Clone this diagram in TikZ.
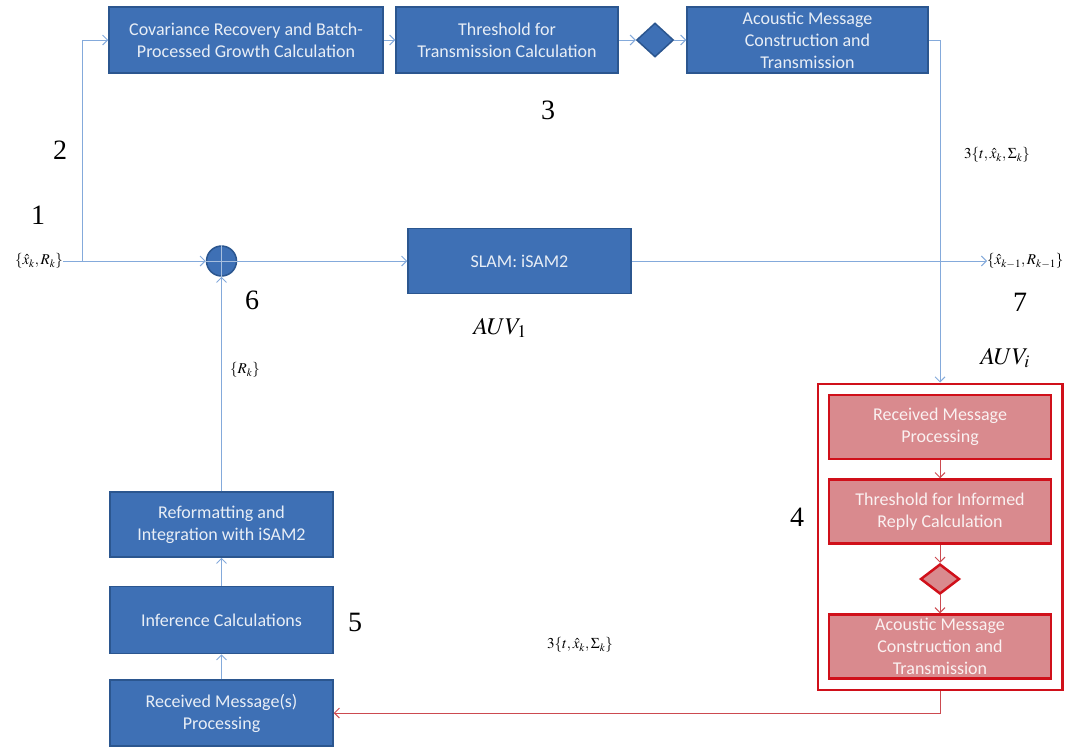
\documentclass[tikz,border=0pt]{standalone}
\usepackage{mathptmx}
\usepackage{fontspec}
\setmainfont{Liberation Serif}
\newfontfamily\boxfont{Carlito}
\usepackage{tikz}
\usetikzlibrary{arrows.meta,positioning,shapes.geometric,fit}
\definecolor{blockblue}{HTML}{3E70B5}
\definecolor{blockedge}{HTML}{2B568F}
\definecolor{flowblue}{HTML}{84AADB}
\definecolor{redfill}{HTML}{D98A8E}
\definecolor{rededge}{HTML}{D0101A}
\definecolor{flowred}{HTML}{CC4A50}
\tikzset{
  fc/block/.style={draw=blockedge, line width=1.5pt, fill=blockblue, text=white!88!blockblue,
    font=\boxfont\fontsize{18}{22}\selectfont, align=center, inner sep=0pt},
  fc/redblock/.style={fc/block, draw=rededge, line width=2.5pt, fill=redfill, text=white!88!redfill,
    minimum width=222pt, minimum height=64pt},
  fc/decision/.style={draw=blockedge, line width=1.5pt, fill=blockblue, diamond, aspect=1.1,
    inner sep=0pt, minimum width=37pt, minimum height=34pt},
  fc/reddecision/.style={fc/decision, draw=rededge, line width=2.5pt, fill=redfill,
    minimum width=39pt, minimum height=30pt},
  fc/frame/.style={draw=rededge, line width=2.5pt, inner sep=10pt},
  fc/sum/.style={draw=blockedge, line width=1.5pt, fill=blockblue, circle, inner sep=0pt, minimum size=30pt},
  fc/line/.style={draw=flowblue, line width=1pt, -{Straight Barb[length=5pt,width=10pt]}},
  fc/redline/.style={fc/line, draw=flowred},
  fc/num/.style={font=\fontsize{28}{30}\selectfont, inner sep=0pt},
  fc/auv/.style={font=\fontsize{24}{26}\selectfont, inner sep=0pt},
  fc/math/.style={font=\fontsize{15}{17}\selectfont, inner sep=0pt}
}
\begin{document}
\begin{tikzpicture}[x=1pt, y=-1pt, node distance=18pt]
  \useasboundingbox (0,0) rectangle (1070,748);

  % top row: growth check and transmission
  \node[fc/block, minimum width=274pt, minimum height=66pt] (cov) at (246,40)
    {Covariance Recovery and Batch-\\Processed Growth Calculation};
  \node[fc/block, minimum width=222pt, minimum height=66pt] (thr) at (507,40)
    {Threshold for\\Transmission Calculation};
  \node[fc/decision] (dec) at (655,40) {};
  \node[fc/block, minimum width=241pt, minimum height=66pt] (ack) at (807.5,40)
    {Acoustic Message\\Construction and\\Transmission};

  % middle row: own vehicle
  \node[fc/math] (in) at (39,261) {$\{\hat{x}_k, R_k\}$};
  \coordinate (br) at (82,261);
  \node[fc/sum] (sum) at (221.5,261) {};
  \node[fc/block, minimum width=223pt, minimum height=65pt] (slam) at (519.5,261) {SLAM: iSAM2};
  \node[fc/math, anchor=west] (out) at (987,261) {$\{\hat{x}_{k-1}, R_{k-1}\}$};

  % left column: handling replies
  \node[fc/block, minimum width=223pt, minimum height=66pt] (recv) at (221.5,713)
    {Received Message(s)\\Processing};
  \node[fc/block, minimum width=223pt, minimum height=67pt, above=25pt of recv] (inf)
    {Inference Calculations};
  \node[fc/block, minimum width=223pt, minimum height=65pt, above=28pt of inf] (ref)
    {Reformatting and\\Integration with iSAM2};

  % other vehicle
  \node[fc/redblock] (rm) at (940,427) {Received Message\\Processing};
  \node[fc/redblock, below=of rm] (tr) {Threshold for Informed\\Reply Calculation};
  \node[fc/reddecision, below=of tr] (rdec) {};
  \node[fc/redblock, below=of rdec] (ra) {Acoustic Message\\Construction and\\Transmission};
  \node[fc/frame, fit=(rm)(ra)] (cont) {};

  % connectors
  \draw[fc/line] (in) -- (sum);
  \draw[fc/line] (br) |- (cov);
  \draw[fc/line] (cov) -- (thr);
  \draw[fc/line] (thr) -- (dec);
  \draw[fc/line] (dec) -- (ack);
  \draw[fc/line] (sum) -- (slam);
  \draw[fc/line] (slam) -- (out);
  \draw[fc/line] (ack.east) -| (cont.north);
  \draw[fc/redline] (rm) -- (tr);
  \draw[fc/redline] (tr) -- (rdec);
  \draw[fc/redline] (rdec) -- (ra);
  \draw[fc/redline] (cont.south) |- (recv.east);
  \draw[fc/line] (recv) -- (inf);
  \draw[fc/line] (inf) -- (ref);
  \draw[fc/line] (ref) -- (sum);
  \draw[white!55!blockblue, line width=1pt] (sum.north) -- (sum.south) (sum.west) -- (sum.east);

  % labels
  \node[fc/num] (n1) at (38,215) {1};
  \node[fc/num] (n2) at (60,150) {2};
  \node[fc/num] (n3) at (548,110) {3};
  \node[fc/num] (n4) at (797,517) {4};
  \node[fc/num] (n5) at (355,622) {5};
  \node[fc/num] (n6) at (252,300) {6};
  \node[fc/num] (n7) at (1020,302) {7};
  \node[fc/auv] (auv1) at (500,328) {$AUV_1$};
  \node[fc/auv] (auvi) at (1005,358) {$AUV_i$};
  \node[fc/math] (msgtop) at (997,155) {$3\{t, \hat{x}_k, \Sigma_k\}$};
  \node[fc/math] (msgbot) at (580,645) {$3\{t, \hat{x}_k, \Sigma_k\}$};
  \node[fc/math] (rk) at (245,370) {$\{R_k\}$};
\end{tikzpicture}
\end{document}
